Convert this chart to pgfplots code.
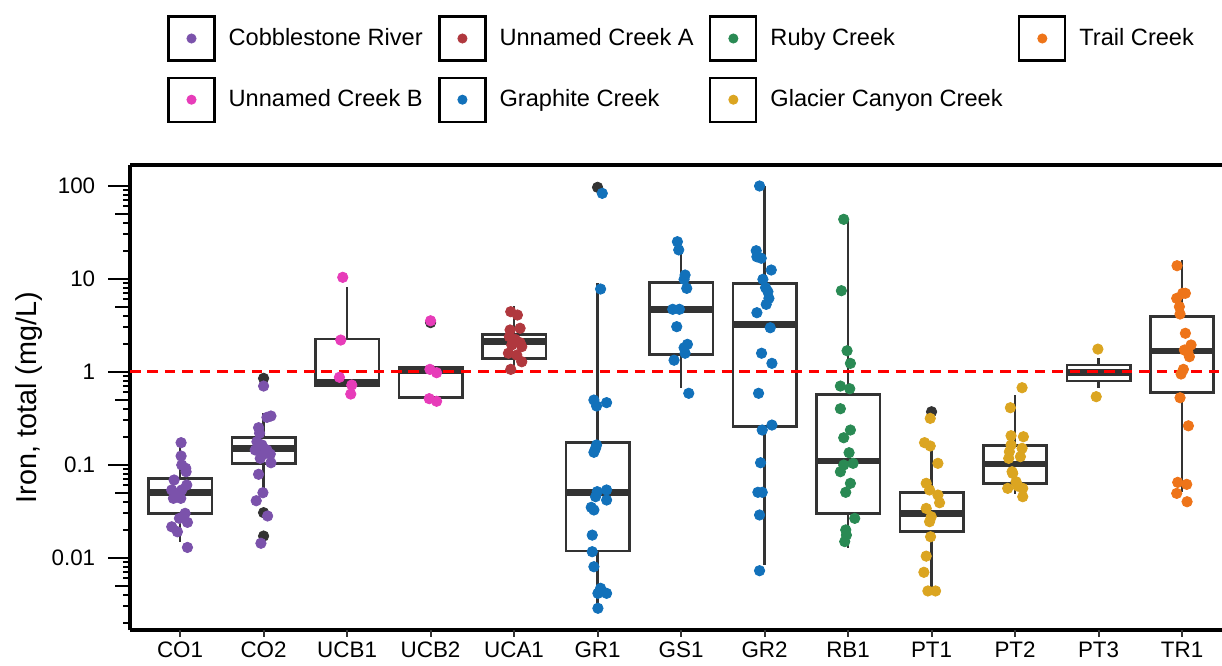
\documentclass[border=0pt]{standalone}
\usepackage{pgfplots}
\pgfplotsset{compat=1.18}
\usepgfplotslibrary{statistics}
\usepackage{fontspec}
\setmainfont{Liberation Sans}

\definecolor{cobble}{RGB}{123,82,171}
\definecolor{ucb}{RGB}{231,60,185}
\definecolor{uca}{RGB}{176,56,62}
\definecolor{graphite}{RGB}{18,113,186}
\definecolor{ruby}{RGB}{42,138,84}
\definecolor{glacier}{RGB}{219,165,33}
\definecolor{trail}{RGB}{238,116,25}
\definecolor{boxgrey}{RGB}{51,51,51}

\pgfplotsset{
  keybox/.style={legend image code/.code={
      \draw[black,line width=1.1pt,fill=white] (0pt,-11pt) rectangle (23pt,11pt);
      \fill (11.5pt,0pt) circle (2.3pt);}},
  pts/.style={only marks, mark=*, mark size=2.6pt, color=#1, forget plot},
  tk/.style={forget plot, line width=1pt, #1},
  bx/.style={forget plot, draw=boxgrey, line width=1.3pt, solid, fill=none,
      boxplot/draw direction=y, boxplot/box extend=0.76,
      boxplot/whisker extend=0,
      boxplot/every median/.style={line width=3.4pt},
      boxplot prepared={#1}},
}

\begin{document}
\begin{tikzpicture}
\begin{axis}[
  scale only axis, width=546.9pt, height=232.5pt,
  xmin=-0.6, xmax=12.5, ymode=log, ymin=0.00167, ymax=167,
  name=ax,
  axis x line*=box, axis y line*=left,
  tick align=outside,
  tick label style={font=\fontsize{11.2}{13}\selectfont},
  axis line style={black, line width=1.7pt},
  xtick=\empty,
  ytick pos=left,
  ytick={0.01,0.1,1,10,100},
  yticklabels={0.01,0.1,1,10,100},
  minor ytick={},
  major tick length=10.8pt,
  every tick/.style={black, line width=1pt},
  yticklabel style={anchor=east, inner sep=0pt, xshift=-6.4pt},
  ylabel={Iron, total (mg/L)},
  ylabel style={at={(axis description cs:-0.0919,0.5)}, anchor=center,
                inner sep=0pt, font=\fontsize{14.4}{17}\selectfont},
  legend columns=4,
  legend cell align=left,
  legend style={at={(axis description cs:0,1)}, anchor=north west,
      xshift=18.5pt, yshift=75pt, draw=none, fill=none, inner sep=0pt,
      font=\fontsize{11.8}{14}\selectfont, row sep=7.5pt,
      nodes={inner sep=0pt},
      /tikz/every odd column/.append style={column sep=6.5pt},
      /tikz/every even column/.append style={column sep=7.8pt}},
  clip=false,
]

% legend keys, one per river or creek
\addlegendimage{keybox, color=cobble}   \addlegendentry{Cobblestone River}
\addlegendimage{keybox, color=uca}      \addlegendentry{Unnamed Creek A}
\addlegendimage{keybox, color=ruby}     \addlegendentry{Ruby Creek}
\addlegendimage{keybox, color=trail}    \addlegendentry{Trail Creek}
\addlegendimage{keybox, color=ucb}      \addlegendentry{Unnamed Creek B}
\addlegendimage{keybox, color=graphite} \addlegendentry{Graphite Creek}
\addlegendimage{keybox, color=glacier}  \addlegendentry{Glacier Canyon Creek}

% log ticks left of the frame: long at 10^k, medium at 5 x 10^k, short elsewhere
\pgfplotsinvokeforeach{0.01,0.1,1,10,100}{
  \addplot[tk=black] coordinates {(-0.8587,#1) (-0.6,#1)};}
\pgfplotsinvokeforeach{0.005,0.05,0.5,5,50}{
  \addplot[tk=black] coordinates {(-0.7796,#1) (-0.6,#1)};}
\pgfplotsinvokeforeach{0.002,0.003,0.004,0.006,0.007,0.008,0.009,
                       0.02,0.03,0.04,0.06,0.07,0.08,0.09,
                       0.2,0.3,0.4,0.6,0.7,0.8,0.9,
                       2,3,4,6,7,8,9,
                       20,30,40,60,70,80,90}{
  \addplot[tk=black] coordinates {(-0.6838,#1) (-0.6,#1)};}
% short site ticks below the frame
\pgfplotsinvokeforeach{0,1,2,3,4,5,6,7,8,9,10,11,12}{
  \addplot[tk=boxgrey] coordinates {(#1,0.00167) (#1,0.00142)};}

% box plots per site
\addplot[bx={draw position=0, lower whisker=0.0148, lower quartile=0.030, median=0.0505, upper quartile=0.0713, upper whisker=0.17}] coordinates {};
\addplot[bx={draw position=1, lower whisker=0.05, lower quartile=0.1035, median=0.150, upper quartile=0.195, upper whisker=0.357}] coordinates {};
\addplot[bx={draw position=2, lower whisker=0.70, lower quartile=0.70, median=0.77, upper quartile=2.24, upper whisker=8.2}] coordinates {};
\addplot[bx={draw position=3, lower whisker=0.531, lower quartile=0.531, median=1.04, upper quartile=1.11, upper whisker=1.11}] coordinates {};
\addplot[bx={draw position=4, lower whisker=1.13, lower quartile=1.39, median=2.10, upper quartile=2.52, upper whisker=5.09}] coordinates {};
\addplot[bx={draw position=5, lower whisker=0.00286, lower quartile=0.0118, median=0.0505, upper quartile=0.1725, upper whisker=9.06}] coordinates {};
\addplot[bx={draw position=6, lower whisker=0.663, lower quartile=1.54, median=4.64, upper quartile=9.06, upper whisker=20.4}] coordinates {};
\addplot[bx={draw position=7, lower whisker=0.0083, lower quartile=0.256, median=3.23, upper quartile=8.92, upper whisker=99.3}] coordinates {};
\addplot[bx={draw position=8, lower whisker=0.0126, lower quartile=0.030, median=0.1096, upper quartile=0.571, upper whisker=43.5}] coordinates {};
\addplot[bx={draw position=9, lower whisker=0.0043, lower quartile=0.019, median=0.030, upper quartile=0.0505, upper whisker=0.144}] coordinates {};
\addplot[bx={draw position=10, lower whisker=0.049, lower quartile=0.0631, median=0.1018, upper quartile=0.160, upper whisker=0.562}] coordinates {};
\addplot[bx={draw position=11, lower whisker=0.673, lower quartile=0.794, median=0.985, upper quartile=1.18, upper whisker=1.39}] coordinates {};
\addplot[bx={draw position=12, lower whisker=0.0505, lower quartile=0.594, median=1.67, upper quartile=3.90, upper whisker=15.9}] coordinates {};

% guideline at 1 mg/L
\addplot[forget plot, red, line width=1.5pt, dash pattern=on 5.3pt off 3.4pt]
  coordinates {(-0.6,1) (12.5,1)};

% outliers of the box plots
\addplot[pts=boxgrey] coordinates {(1,0.849) (1,0.0305) (1,0.0171) (3,3.37) (5,96.1) (9,0.371)};

% individual samples
\addplot[pts=cobble] coordinates {
 (0.012,0.1726) (0.012,0.124) (0.020,0.0993) (0.068,0.0915) (0.072,0.0841)
 (-0.072,0.0685) (0.080,0.0605) (-0.100,0.0535) (0.020,0.0535) (-0.060,0.0492)
 (-0.080,0.0435) (0.008,0.0435) (0.060,0.030) (-0.008,0.0265) (0.088,0.024)
 (-0.100,0.0215) (-0.032,0.019) (0.088,0.0129)};
\addplot[pts=cobble] coordinates {
 (1.000,0.701) (1.040,0.323) (1.088,0.334) (0.940,0.250) (0.952,0.218)
 (0.920,0.177) (0.980,0.163) (0.900,0.144) (1.040,0.144) (1.000,0.130)
 (1.080,0.130) (0.960,0.117) (1.088,0.105) (0.940,0.0789) (0.992,0.050)
 (0.912,0.041) (1.048,0.0281) (0.968,0.0143)};
\addplot[pts=ucb] coordinates {
 (1.948,10.35) (1.924,2.19) (1.908,0.871) (2.056,0.719) (2.044,0.575)};
\addplot[pts=ucb] coordinates {
 (3.000,3.53) (2.992,1.06) (3.072,0.976) (2.984,0.513) (3.072,0.481)};
\addplot[pts=uca] coordinates {
 (3.960,4.42) (4.040,4.07) (3.952,2.81) (4.072,2.93) (3.944,2.38)
 (4.012,2.23) (4.072,2.05) (3.972,1.94) (4.092,1.86) (3.932,1.58)
 (4.032,1.51) (4.092,1.28) (3.960,1.06)};
\addplot[pts=graphite] coordinates {
 (5.056,82.8) (5.036,7.75) (4.956,0.496) (5.108,0.465) (4.988,0.428)
 (4.988,0.163) (4.976,0.150) (4.956,0.136) (5.108,0.0535) (4.996,0.0513)
 (4.976,0.0453) (5.108,0.0417) (4.924,0.0348) (4.956,0.0326) (4.936,0.0175)
 (4.936,0.0116) (4.956,0.0080) (5.036,0.00469) (5.108,0.00414) (5.004,0.00414)
 (5.004,0.00286)};
\addplot[pts=graphite] coordinates {
 (5.956,25.0) (5.972,20.4) (6.048,10.96) (6.036,9.85) (6.068,7.88)
 (5.900,4.69) (5.980,4.69) (5.948,3.05) (6.076,1.97) (6.036,1.81)
 (6.048,1.58) (5.916,1.33) (6.092,0.586)};
\addplot[pts=graphite] coordinates {
 (6.940,99.3) (6.900,20.0) (6.908,17.2) (6.960,16.6) (7.080,12.4)
 (6.980,9.85) (7.012,8.02) (7.040,7.25) (7.052,6.15) (7.020,5.30)
 (6.908,4.31) (7.068,2.97) (6.964,1.58) (7.088,1.23) (6.928,0.586)
 (7.088,0.267) (6.972,0.236) (6.952,0.105) (6.920,0.0505) (6.972,0.0505)
 (6.940,0.0288) (6.940,0.00725)};
\addplot[pts=ruby] coordinates {
 (7.948,43.5) (7.920,7.43) (7.988,1.68) (8.028,1.23) (7.908,0.701)
 (8.020,0.656) (7.908,0.400) (8.028,0.236) (7.948,0.195) (8.012,0.1346)
 (8.060,0.1035) (7.948,0.0993) (7.908,0.0841) (8.028,0.0631) (7.972,0.0505)
 (8.080,0.0265) (7.972,0.0199) (7.980,0.0175) (7.960,0.0149)};
\addplot[pts=glacier] coordinates {
 (8.984,0.315) (8.916,0.1726) (8.984,0.159) (9.076,0.1035) (8.936,0.0631)
 (8.976,0.0535) (9.076,0.0472) (9.096,0.039) (8.936,0.0339) (8.996,0.0276)
 (8.976,0.0244) (8.988,0.0168) (8.936,0.0104) (8.908,0.00697) (8.956,0.00439)
 (9.048,0.00439)};
\addplot[pts=glacier] coordinates {
 (10.084,0.673) (9.944,0.410) (10.100,0.200) (9.952,0.205) (9.952,0.163)
 (10.084,0.150) (9.932,0.138) (10.064,0.122) (9.924,0.117) (9.964,0.0841)
 (9.972,0.0807) (10.012,0.0656) (9.912,0.0557) (10.092,0.0557) (10.032,0.059)
 (10.092,0.0453)};
\addplot[pts=glacier] coordinates {(10.992,1.75) (10.972,0.539)};
\addplot[pts=trail] coordinates {
 (11.940,13.8) (12.008,6.97) (12.040,6.97) (11.936,6.15) (11.968,5.00)
 (11.976,4.17) (12.040,2.59) (12.108,1.94) (12.028,1.71) (12.068,1.64)
 (12.088,1.45) (12.016,1.06) (11.988,0.944) (11.976,0.525) (12.076,0.262)
 (11.948,0.0646) (12.056,0.0615) (11.936,0.0492) (12.060,0.040)};
\end{axis}

% site names along the bottom
\begin{axis}[
  scale only axis, width=546.9pt, height=232.5pt,
  xmin=-0.6, xmax=12.5, ymin=0, ymax=1,
  axis x line*=bottom, axis y line=none,
  tick align=outside,
  tick label style={font=\fontsize{11.2}{13}\selectfont},
  axis line style={draw=none},
  ytick=\empty,
  xtick={0,...,12},
  xticklabels={CO1,CO2,UCB1,UCB2,UCA1,GR1,GS1,GR2,RB1,PT1,PT2,PT3,TR1},
  major tick length=3.3pt,
  every tick/.style={boxgrey, line width=1pt},
  xticklabel style={anchor=north, inner sep=0pt, yshift=-2.6pt},
]
\end{axis}

\pgfresetboundingbox
\path ([shift={(-65pt,-17.5pt)}]ax.south west) rectangle ([shift={(-0.9pt,82.5pt)}]ax.north east);
\end{tikzpicture}
\end{document}
